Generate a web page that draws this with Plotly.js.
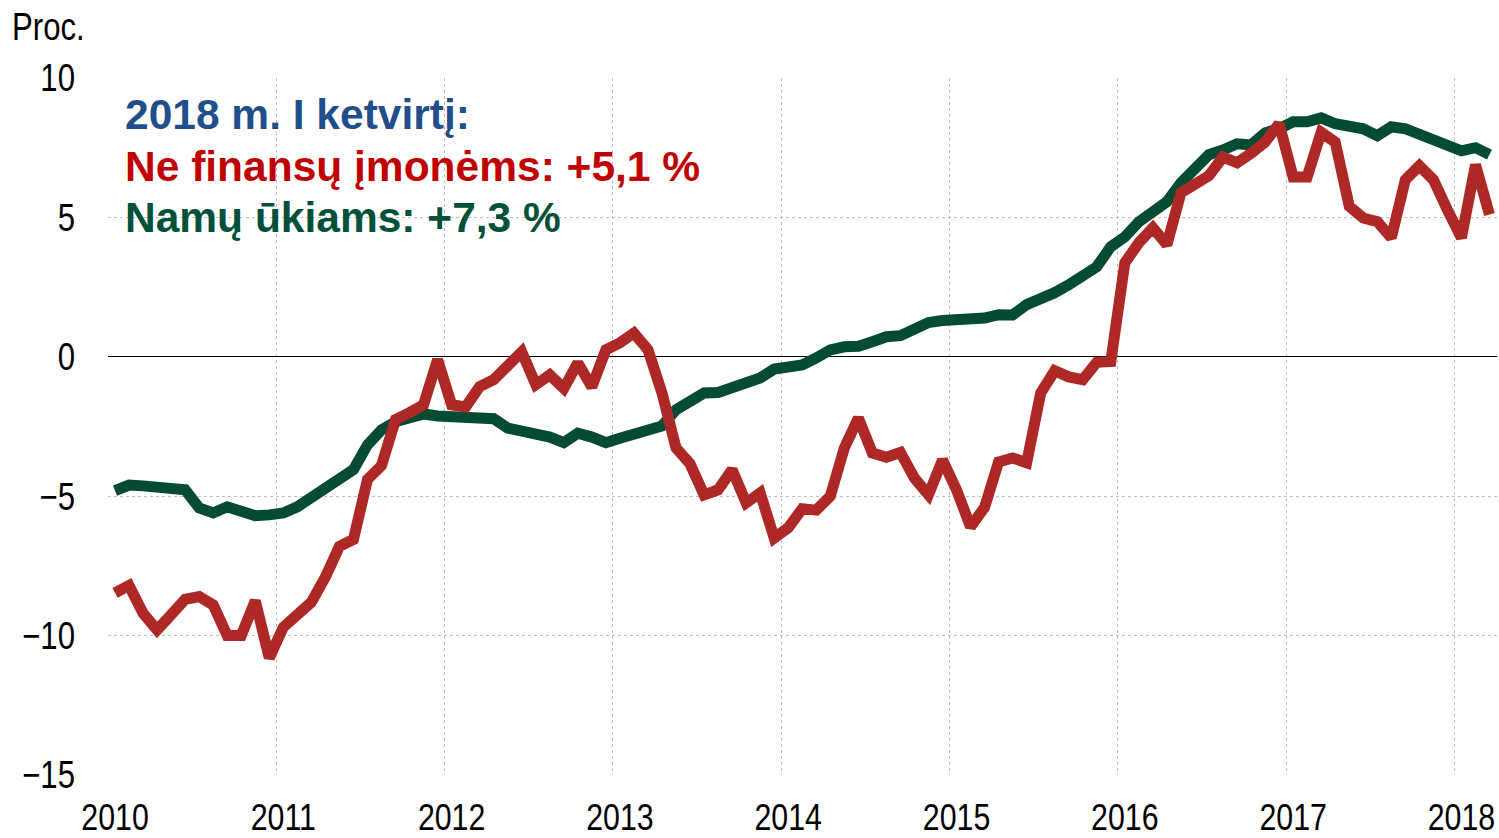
<!DOCTYPE html>
<html>
<head>
<meta charset="utf-8">
<script src="https://cdn.plot.ly/plotly-3.0.1.min.js"></script>
<style>html,body{margin:0;padding:0;background:#fff;}#chart{width:1499px;height:838px;}</style>
</head>
<body>
<div id="chart"></div>
<script>
// Monthly series, Jan 2010 – Mar 2018 (annual growth, %)
const startYear = 2010;
const years = [2010, 2011, 2012, 2013, 2014, 2015, 2016, 2017, 2018];
const yearLabels = ["2010", "2011", "2012", "2013", "2014", "2015", "2016", "2017", "2018"];

const nonFinancial = [
  -8.47, -8.2, -9.2, -9.8, -9.25, -8.7, -8.6, -8.9, -10.0, -10.0, -8.75, -10.8,
  -9.7, -9.25, -8.8, -7.9, -6.8, -6.55, -4.4, -3.9, -2.25, -2.0, -1.72, -0.1,
  -1.72, -1.8, -1.07, -0.82, -0.29, 0.18, -1.0, -0.65, -1.13, -0.22, -1.08, 0.25,
  0.5, 0.85, 0.25, -1.3, -3.27, -3.84, -4.95, -4.77, -4.05, -5.24, -4.88, -6.5,
  -6.13, -5.45, -5.5, -5.0, -3.27, -2.2, -3.45, -3.6, -3.43, -4.35, -4.95, -3.7,
  -4.77, -6.1, -5.4, -3.77, -3.63, -3.8, -1.3, -0.5, -0.72, -0.82, -0.2, -0.17,
  3.37, 4.09, 4.63, 4.02, 5.88, 6.24, 6.5, 7.17, 6.96, 7.3, 7.7, 8.36,
  6.45, 6.45, 8.05, 7.7, 5.4, 4.98, 4.85, 4.27, 6.35, 6.85, 6.35, 5.27,
  4.27, 6.89, 5.1
];

const households = [
  -4.8, -4.6, -4.63, -4.67, -4.73, -4.77, -5.42, -5.6, -5.38, -5.49, -5.7, -5.67,
  -5.6, -5.38, -5.06, -4.7, -4.4, -4.05, -3.16, -2.62, -2.33, -2.2, -2.05, -2.12,
  -2.15, -2.18, -2.22, -2.22, -2.56, -2.65, -2.84, -2.88, -3.08, -2.74, -2.88, -3.08,
  -2.92, -2.74, -2.64, -2.48, -1.9, -1.65, -1.3, -1.28, -1.08, -0.92, -0.76, -0.44,
  -0.35, -0.29, -0.04, 0.25, 0.36, 0.38, 0.54, 0.72, 0.76, 1.0, 1.23, 1.3,
  1.32, 1.28, 1.39, 1.51, 1.5, 1.87, 2.04, 2.3, 2.58, 2.94, 3.23, 3.95,
  4.3, 4.84, 5.2, 5.56, 6.24, 6.78, 7.25, 7.42, 7.64, 7.6, 8.03, 8.18,
  8.43, 8.43, 8.57, 8.36, 8.29, 8.18, 7.93, 8.25, 8.18, 7.96, 7.78, 7.6,
  7.39, 7.5, 7.25
];

const yTicks = [-15, -10, -5, 0, 5, 10];
const yTickText = ["\u221215", "\u221210", "\u22125", "0", "5", "10"];

// x position of each month: middle of the month
const months = nonFinancial.map((_, i) => startYear + (i + 0.5) / 12);
const tickPos = years.map(y => y + 0.5 / 12);

const RED = "#AE2826";
const GREEN = "#034B31";
const plain = "'Liberation Sans', Arial, sans-serif";
const NARROW = 0.82; // emulate a condensed face for axis texts

const traces = [
  {x: months, y: households, type: "scatter", mode: "lines", name: "Namų ūkiams",
   line: {color: GREEN, width: 11, shape: "linear"}, hoverinfo: "x+y"},
  {x: months, y: nonFinancial, type: "scatter", mode: "lines", name: "Ne finansų įmonėms",
   line: {color: RED, width: 11, shape: "linear"}, hoverinfo: "x+y"}
];

const layout = {
  width: 1499, height: 838,
  margin: {l: 108, r: 2, t: 78, b: 63},
  paper_bgcolor: "#ffffff", plot_bgcolor: "#ffffff",
  showlegend: false,
  font: {family: plain, size: 38, color: "#000"},
  xaxis: {
    range: [2010, 2018.253],
    tickmode: "array", tickvals: tickPos, ticktext: yearLabels,
    showgrid: false, zeroline: false, showline: false, ticks: "",
    ticklabelstandoff: 17, ticklabeloverflow: "allow",
    tickfont: {family: plain, size: 37, color: "#000"},
    minor: {tickmode: "linear", tick0: 2010, dtick: 1, showgrid: true,
            gridcolor: "#BFBFBF", griddash: "dot", gridwidth: 1, ticks: ""}
  },
  yaxis: {
    range: [-15, 10],
    tickmode: "array", tickvals: yTicks, ticktext: yTickText,
    showgrid: true, gridcolor: "#BFBFBF", griddash: "dot", gridwidth: 1,
    zeroline: true, zerolinecolor: "#000", zerolinewidth: 1.3,
    showline: false, ticks: "",
    ticklabelstandoff: 32,
    tickfont: {family: plain, size: 38, color: "#000"}
  },
  annotations: [
    {text: "Proc.", xref: "paper", yref: "paper", x: -0.0705, y: 1.0735,
     xanchor: "left", yanchor: "middle", showarrow: false,
     font: {family: plain, size: 38, color: "#000"}},
    {text: "<b>2018 m. I ketvirtį:</b>", xref: "paper", yref: "paper", x: 0.011, y: 0.947,
     xanchor: "left", yanchor: "middle", showarrow: false,
     font: {family: plain, size: 42.5, color: "#1F4E8A"}},
    {text: "<b>Ne finansų įmonėms: +5,1 %</b>", xref: "paper", yref: "paper", x: 0.011, y: 0.873,
     xanchor: "left", yanchor: "middle", showarrow: false,
     font: {family: plain, size: 42.5, color: "#C00000"}},
    {text: "<b>Namų ūkiams: +7,3 %</b>", xref: "paper", yref: "paper", x: 0.011, y: 0.800,
     xanchor: "left", yanchor: "middle", showarrow: false,
     font: {family: plain, size: 42.5, color: "#00503A"}}
  ]
};

function condense(sel) {
  document.querySelectorAll(sel).forEach(t => {
    const ax = parseFloat(t.getAttribute("x") || "0");
    const prev = t.getAttribute("transform") || "";
    t.setAttribute("transform", prev + " translate(" + ax + ",0) scale(" + NARROW + ",1) translate(" + (-ax) + ",0)");
  });
}

Plotly.newPlot("chart", traces, layout, {displayModeBar: false, staticPlot: true}).then(gd => {
  condense(".xtick text");
  condense(".ytick text");
  // "Proc." label: condense around its left edge
  const ann = gd.querySelectorAll(".annotation-text");
  if (ann.length) {
    const t = ann[0];
    const bb = t.getBBox();
    const lx = bb.x;
    const prev = t.getAttribute("transform") || "";
    t.setAttribute("transform", prev + " translate(" + lx + ",0) scale(" + NARROW + ",1) translate(" + (-lx) + ",0)");
  }
});
</script>
</body>
</html>
